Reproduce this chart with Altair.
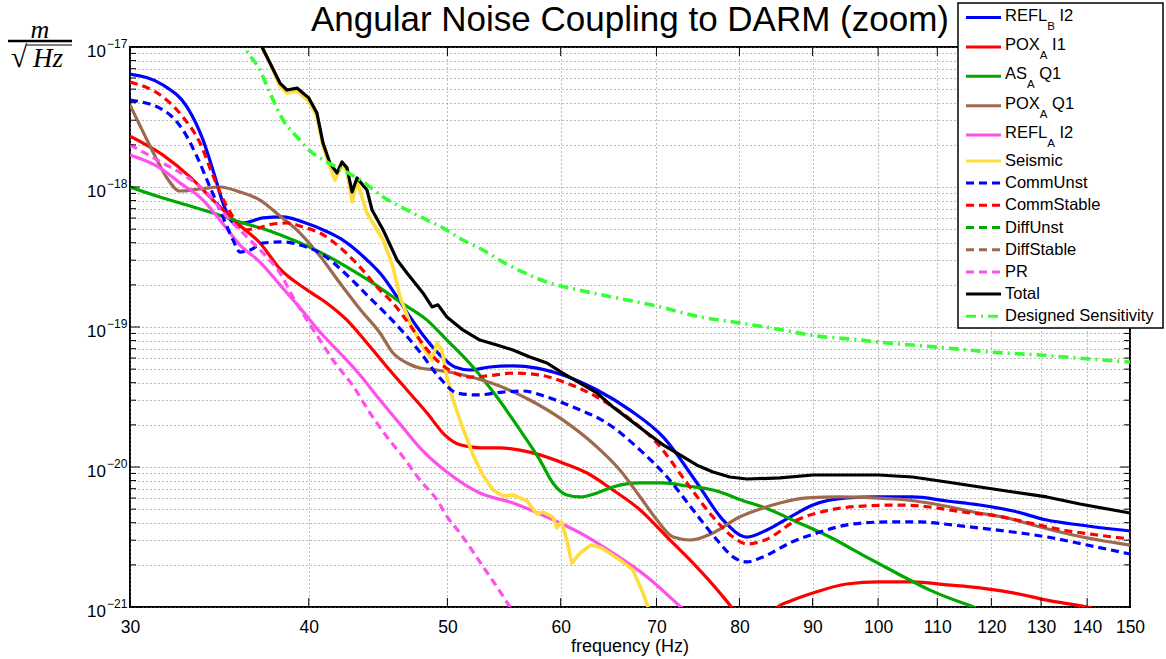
import altair as alt
import pandas as pd

# ---------------------------------------------------------------------------
# Angular noise projections to DARM, amplitude spectral density.
# Values are given in units of 1e-21 m/sqrt(Hz); frequencies in Hz.
# ---------------------------------------------------------------------------

refl_b_i2_f = [30, 31.64, 32.88, 33.74, 34.40, 34.84, 35.41, 35.98, 37.16, 38.38, 39.63, 41.39,
               42.26, 43.93, 45.09, 46.11, 47.08, 48.07, 49.40, 50.60, 51.86, 53.55, 55.57, 57.75,
               60.20, 63.61, 67.08, 70.75, 74.72, 77.92, 80.98, 83.63, 86.78, 90.05, 95.10, 100.1,
               105.7, 111.7, 117.8, 124.3, 131.2, 138.4, 150]
refl_b_i2_v = [6410, 5350, 3730, 2170, 1180, 769, 562, 553, 601, 611, 562, 469,
               418, 301, 228, 164, 118, 87.7, 63.1, 51.8, 49.3, 51.8, 52.7, 50.9,
               45.4, 35.5, 25.5, 16.4, 7.69, 4.18, 3.16, 3.55, 4.39, 5.35, 6.01, 6.11,
               6.11, 5.72, 5.35, 4.85, 4.18, 3.85, 3.49]

pox_a_i1_f = [30, 31.64, 33.04, 34.29, 35.64, 36.98, 38.19, 39.89, 41.19, 42.54, 43.93, 45.37,
              46.85, 48.39, 49.80, 51.02, 52.68, 54.41, 56.19, 58.03, 60.20, 62.60, 65.26, 68.19,
              71.21, 74.25, 77.53, 79.42, 82.0, 85.1, 86.78, 90.05, 95.10, 100.1, 105.7, 111.7,
              117.8, 124.3, 131.2, 141.1, 150]
pox_a_i1_v = [2310, 1690, 1180, 807, 553, 398, 260, 184, 148, 112, 76.9, 51.8,
              35.5, 24.3, 16.9, 14.4, 13.7, 13.7, 13.2, 12.2, 10.7, 9.06, 6.85, 4.93,
              3.16, 2.06, 1.26, 0.92, 0.5, 1.0, 1.10, 1.26, 1.46, 1.51, 1.51, 1.44,
              1.37, 1.26, 1.12, 0.98, 0.82]

as_a_q1_f = [30, 31.48, 32.88, 34.29, 35.81, 37.40, 39.00, 40.73, 42.54, 44.36, 46.33, 48.39,
             49.96, 52.10, 54.15, 56.19, 58.03, 59.25, 60.59, 61.90, 63.61, 65.26, 68.19, 70.75,
             73.52, 76.67, 80.98, 83.09, 87.76, 92.53, 97.57, 103.0, 108.7, 116.6, 122.8]
as_a_q1_v = [1000, 848, 744, 652, 562, 493, 418, 343, 268, 206, 151, 112,
             80.7, 51.8, 31.6, 18.4, 11.2, 7.69, 6.31, 6.11, 6.52, 7.20, 7.69, 7.69,
             7.32, 6.85, 5.62, 5.18, 4.05, 3.16, 2.35, 1.75, 1.32, 1.0, 0.83]

pox_a_q1_f = [30, 30.83, 31.33, 31.84, 32.51, 33.58, 34.67, 35.81, 36.98, 38.19, 39.44, 40.73,
              42.06, 43.44, 44.86, 45.81, 46.85, 47.84, 49.17, 51.26, 54.15, 57.09, 60.20, 63.61,
              66.00, 68.19, 70.06, 71.90, 73.90, 76.67, 80.00, 83.09, 85.40, 89.20, 94.04, 99.20,
              104.7, 110.5, 116.6, 123.1, 129.8, 136.8, 150]
pox_a_q1_v = [3850, 2170, 1560, 1160, 936, 968, 1000, 921, 807, 621, 469, 321,
              206, 134, 90.6, 65.2, 55.3, 50.9, 49.3, 45.4, 38.5, 30.1, 21.7, 13.9,
              9.52, 6.11, 4.18, 3.16, 3.01, 3.38, 4.39, 5.09, 5.53, 6.01, 6.11, 6.01,
              5.81, 5.35, 4.77, 4.32, 3.73, 3.27, 2.77]

refl_a_i2_f = [30, 31.48, 32.51, 33.74, 34.67, 35.81, 36.98, 38.19, 39.44, 40.73, 42.06, 43.44,
               44.86, 46.33, 47.84, 49.96, 52.68, 55.57, 58.69, 61.90, 65.26, 68.96, 72.80, 75.10]
refl_a_i2_v = [1690, 1370, 1070, 807, 581, 385, 291, 200, 137, 92.1, 65.2, 45.4,
               30.1, 20.3, 13.7, 9.21, 6.52, 5.53, 4.39, 3.38, 2.43, 1.64, 1.0, 0.75]

seismic_f = [36.69, 37.10, 37.58, 38.19, 38.62, 39.25, 39.63, 40.00, 40.53, 40.93, 41.39, 41.72,
             42.20, 42.54, 42.89, 43.23, 43.93, 45.09, 45.81, 46.33, 47.08, 48.07, 48.78, 49.17,
             49.56, 49.96, 50.46, 51.26, 52.10, 52.94, 53.81, 54.68, 55.57, 56.84, 57.75, 58.31,
             59.25, 59.62, 60.09, 60.59, 61.08, 61.90, 63.00, 64.10, 66.00, 67.40, 68.50, 69.05,
             69.60]
seismic_v = [12200, 10000, 7690, 5250, 4700, 4850, 4450, 4100, 3200, 1950, 1400, 1120,
             1440, 1300, 781, 1100, 652, 418, 268, 164, 107, 72.0, 58.1, 76.9,
             68.5, 43.9, 30.1, 19.0, 12.2, 8.77, 6.85, 6.21, 6.31, 5.72, 4.62, 4.77,
             4.39, 3.67, 4.05, 3.01, 2.06, 2.43, 2.77, 2.64, 2.17, 1.84, 1.26, 1.0,
             0.8]

comm_unst_f = [30, 31.64, 32.67, 33.42, 34.12, 34.84, 35.41, 35.81, 36.40, 37.16, 38.38, 39.44,
               40.73, 42.54, 43.93, 45.37, 46.56, 47.84, 49.40, 50.77, 52.43, 54.68, 56.46, 58.69,
               61.20, 64.63, 68.19, 71.21, 74.25, 77.17, 79.18, 80.98, 83.09, 86.78, 91.05, 96.03,
               101.4, 106.9, 112.8, 119.2, 125.7, 132.5, 140.0, 150]
comm_unst_v = [4180, 3550, 2550, 1640, 1000, 611, 418, 343, 355, 398, 405, 385,
               338, 235, 169, 122, 92.1, 66.3, 43.2, 33.8, 32.7, 34.3, 34.9, 31.6,
               26.8, 20.6, 13.2, 8.48, 4.93, 3.01, 2.28, 2.10, 2.28, 2.87, 3.43, 3.92,
               4.05, 4.05, 3.85, 3.61, 3.38, 3.11, 2.77, 2.39]

comm_stable_f = [30, 31.64, 32.67, 33.58, 34.23, 34.79, 35.41, 35.98, 36.80, 37.76, 38.62, 39.63,
                 40.73, 42.26, 43.44, 44.64, 45.81, 47.08, 48.23, 49.40, 50.60, 51.86, 53.29, 55.57,
                 58.03, 60.59, 63.61, 66.76, 70.06, 73.52, 76.67, 79.18, 80.98, 83.36, 87.76, 92.53,
                 97.57, 103.0, 108.7, 114.6, 121.1, 127.7, 134.6, 142.3, 150]
comm_stable_v = [5620, 4390, 3160, 2060, 1260, 848, 611, 493, 509, 544, 553, 518,
                 469, 355, 268, 193, 148, 103, 72.0, 55.3, 46.9, 43.9, 44.7, 46.9,
                 45.4, 39.8, 31.6, 22.8, 14.8, 7.69, 4.39, 3.16, 2.82, 3.01, 4.18, 4.93,
                 5.26, 5.35, 5.18, 4.77, 4.47, 3.98, 3.55, 3.27, 3.06]

pr_f = [30, 31.64, 32.88, 33.96, 35.07, 36.22, 37.16, 38.19, 39.00, 39.89, 40.73, 41.59,
        43.00, 44.15, 45.37, 46.56, 47.84, 49.17, 50.00, 51.02, 52.68, 54.15, 55.31, 56.19]
pr_v = [2000, 1480, 1180, 906, 611, 439, 338, 243, 164, 112, 80.7, 58.1,
        37.3, 24.3, 16.4, 11.8, 8.07, 5.81, 4.39, 3.38, 2.10, 1.39, 1.0, 0.8]

total_f = [36.69, 37.10, 37.58, 38.19, 38.62, 39.25, 39.63, 40.00, 40.53, 40.93, 41.39, 41.86,
           42.20, 42.54, 42.89, 43.23, 43.93, 44.29, 45.09, 46.11, 46.85, 48.07, 48.78, 49.25,
           49.96, 51.26, 52.68, 54.15, 55.57, 57.09, 58.69, 60.20, 61.90, 63.61, 65.26, 67.08,
           68.96, 70.75, 72.70, 74.72, 76.67, 78.77, 80.98, 85.40, 90.05, 95.10, 100.1, 105.7,
           111.7, 117.8, 124.3, 131.2, 138.4, 150]
total_v = [12200, 10000, 7690, 5530, 4930, 5090, 4690, 4330, 3380, 2060, 1480, 1260,
           1510, 1370, 921, 1160, 952, 685, 493, 301, 243, 175, 139, 144,
           118, 95.2, 80.7, 74.4, 68.5, 61.1, 55.3, 46.9, 39.8, 33.8, 26.8, 21.7,
           17.5, 14.4, 12.2, 10.3, 9.21, 8.48, 8.21, 8.35, 8.77, 8.77, 8.77, 8.48,
           7.81, 7.20, 6.63, 6.11, 5.44, 4.69]

design_f = [35.87, 36.10, 36.98, 37.58, 38.38, 39.25, 40.00, 41.19, 42.26, 43.65, 45.09, 46.56,
            48.07, 49.64, 51.26, 52.94, 54.68, 56.46, 58.97, 62.20, 65.70, 70.06, 75.10, 80.00,
            85.80, 90.60, 95.60, 100.1, 111.7, 119.6, 129.7, 140.6, 150]
design_v = [11800, 10000, 6850, 4690, 3010, 2280, 1840, 1510, 1320, 1090, 848, 708,
            601, 510, 418, 355, 291, 247, 206, 181, 161, 141, 118, 107,
            95.2, 86.2, 82.1, 78.1, 70.8, 66.3, 63.1, 59.1, 56.2]

# Axis tick positions
x_ticks = [30, 40, 50, 60, 70, 80, 90, 100, 110, 120, 130, 140, 150]
y_major = [1e-21, 1e-20, 1e-19, 1e-18, 1e-17]
y_exponents = ["\u221221", "\u221220", "\u221219", "\u221218", "\u221217"]
y_minor = [k * 10.0 ** e for e in range(-21, -17) for k in range(2, 10)]
y_grid = sorted(y_major + y_minor)

BLUE, RED, GREEN, BROWN = "#0000FF", "#FF0000", "#00A800", "#9E6A4E"
MAGENTA, YELLOW, BLACK, LIME = "#FF50EC", "#FFDD3C", "#000000", "#33FF33"
SOLID, DASH, DASHDOT = None, [8, 5], [10, 5, 2, 5]

# (key, legend main text, subscript, suffix, freqs, values, colour, dash, width, smooth)
series = [
    ("REFL_B I2", "REFL", "B", "I2", refl_b_i2_f, refl_b_i2_v, BLUE, SOLID, 3.2, True),
    ("POX_A I1", "POX", "A", "I1", pox_a_i1_f, pox_a_i1_v, RED, SOLID, 3.2, True),
    ("AS_A Q1", "AS", "A", "Q1", as_a_q1_f, as_a_q1_v, GREEN, SOLID, 3.2, True),
    ("POX_A Q1", "POX", "A", "Q1", pox_a_q1_f, pox_a_q1_v, BROWN, SOLID, 3.2, True),
    ("REFL_A I2", "REFL", "A", "I2", refl_a_i2_f, refl_a_i2_v, MAGENTA, SOLID, 3.2, True),
    ("Seismic", "Seismic", "", "", seismic_f, seismic_v, YELLOW, SOLID, 3.6, False),
    ("CommUnst", "CommUnst", "", "", comm_unst_f, comm_unst_v, BLUE, DASH, 3.2, True),
    ("CommStable", "CommStable", "", "", comm_stable_f, comm_stable_v, RED, DASH, 3.2, True),
    ("DiffUnst", "DiffUnst", "", "", [], [], GREEN, DASH, 3.2, True),
    ("DiffStable", "DiffStable", "", "", [], [], BROWN, DASH, 3.2, True),
    ("PR", "PR", "", "", pr_f, pr_v, MAGENTA, DASH, 3.2, True),
    ("Total", "Total", "", "", total_f, total_v, BLACK, SOLID, 3.2, False),
    ("Designed Sensitivity", "Designed Sensitivity", "", "", design_f, design_v, LIME, DASHDOT, 3.6, True),
]

W, H = 1000, 560
FONT = "Liberation Sans"
xscale = alt.Scale(type="log", domain=[30, 150], nice=False)
yscale = alt.Scale(type="log", domain=[1e-21, 1e-17], nice=False)

x_axis = alt.Axis(values=x_ticks, labelExpr="format(datum.value, 'd')", grid=True,
                  gridDash=[1, 3], gridColor="#777777", gridWidth=1, ticks=False, domain=False,
                  labelFontSize=17.5, labelFont=FONT, labelColor="black", labelPadding=11,
                  labelFlush=False, labelOverlap=False, title=None)
y_axis = alt.Axis(values=y_grid, grid=True, gridDash=[1, 3], gridColor="#777777", gridWidth=1,
                  labels=False, ticks=False, domain=False, title=None)


def X(field="freq"):
    return alt.X(f"{field}:Q", scale=xscale, axis=x_axis)


def Y(field="asd"):
    return alt.Y(f"{field}:Q", scale=yscale, axis=y_axis)


def one_row(text=""):
    return alt.Chart(pd.DataFrame({"t": [text]}))


def note(text, x, y, **kw):
    return one_row(text).mark_text(**kw).encode(x=alt.value(x), y=alt.value(y), text="t:N")


layers = []

# spectra, in plotting order
for key, _, _, _, fs, vs, color, dash, width, smooth in series:
    if not fs:
        continue
    d = pd.DataFrame({"freq": fs, "asd": [v * 1e-21 for v in vs]})
    mk = dict(clip=True, color=color, strokeWidth=width, strokeJoin="round",
              interpolate="monotone" if smooth else "linear")
    if dash:
        mk["strokeDash"] = dash
    layers.append(alt.Chart(d).mark_line(**mk).encode(x=X(), y=Y()))

# inward tick marks on all four sides
xt = pd.DataFrame({"freq": x_ticks})
for y0, y1 in [(H, H - 9), (0, 9)]:
    layers.append(alt.Chart(xt).mark_rule(color="black", strokeWidth=1).encode(
        x=X(), y=alt.value(y0), y2=alt.value(y1)))
for vals, length in [(y_major, 10), (y_minor, 6)]:
    yt = pd.DataFrame({"asd": vals})
    for x0, x1 in [(0, length), (W, W - length)]:
        layers.append(alt.Chart(yt).mark_rule(color="black", strokeWidth=1).encode(
            y=Y(), x=alt.value(x0), x2=alt.value(x1)))

# y tick labels as 10^n
yl = pd.DataFrame({"asd": y_major, "exp": y_exponents})
layers.append(alt.Chart(yl).mark_text(text="10", align="right", baseline="middle", fontSize=17,
                                      font=FONT, dy=5, color="black").encode(
    y=Y(), x=alt.value(-24)))
layers.append(alt.Chart(yl).mark_text(align="left", baseline="middle", fontSize=12,
                                      font=FONT, dy=-3, color="black").encode(
    y=Y(), x=alt.value(-23), text="exp:N"))

# titles
layers.append(note("Angular Noise Coupling to DARM (zoom)", W / 2, -16.5, align="center",
                   baseline="alphabetic", fontSize=35, font=FONT, color="black"))
layers.append(note("frequency (Hz)", W / 2, 605, align="center", baseline="alphabetic",
                   fontSize=18, font=FONT, color="black"))

# unit label  m / sqrt(Hz)
SERIF = "Liberation Serif"
layers.append(note("m", -90, -17, align="center", baseline="middle", fontSize=26,
                   font=SERIF, fontStyle="italic", color="black"))
layers.append(one_row().mark_rule(color="black", strokeWidth=2.5).encode(
    x=alt.value(-122), x2=alt.value(-58), y=alt.value(-6)))
layers.append(note("\u221a", -111, 11, align="center", baseline="middle", fontSize=30,
                   font=SERIF, color="black"))
layers.append(one_row().mark_rule(color="black", strokeWidth=1.2).encode(
    x=alt.value(-103), x2=alt.value(-58), y=alt.value(-2)))
layers.append(note("Hz", -82, 12, align="center", baseline="middle", fontSize=27,
                   font=SERIF, fontStyle="italic", color="black"))

# legend box
LX0, LX1, LY0, LY1 = 828, 1033, -44, 281
layers.append(one_row().mark_rect(fill="white", stroke="black", strokeWidth=1.5).encode(
    x=alt.value(LX0), x2=alt.value(LX1), y=alt.value(LY0), y2=alt.value(LY1)))

# Arial/Liberation advance widths (em) for legend text placement
ADV = {"R": .722, "E": .667, "F": .611, "L": .556, "P": .667, "O": .778, "X": .667,
       "A": .667, "S": .667, "B": .667, " ": .278}
LFS, SFS = 16.5, 11.5
ly = -29.5
prev_sub = False
for i, (key, main, sub, rest, _, _, color, dash, width, _) in enumerate(series):
    if i > 0:
        ly += 22.2 + (3.6 if prev_sub else 0) + (3.6 if sub else 0)
    mk = dict(color=color, strokeWidth=3)
    if dash:
        mk["strokeDash"] = dash
    layers.append(one_row().mark_rule(**mk).encode(
        x=alt.value(836), x2=alt.value(871), y=alt.value(ly)))
    ty = ly - 2 if sub else ly
    layers.append(note(main, 875, ty, align="left", baseline="middle", fontSize=LFS,
                       font=FONT, color="black"))
    if sub:
        sx = 875 + sum(ADV[c] for c in main) * LFS
        layers.append(note(sub, sx, ly + 9, align="left", baseline="middle", fontSize=SFS,
                           font=FONT, color="black"))
        rx = sx + ADV[sub] * SFS + ADV[" "] * LFS
        layers.append(note(rest, rx, ty, align="left", baseline="middle",
                           fontSize=LFS, font=FONT, color="black"))
    prev_sub = bool(sub)

chart = alt.layer(*layers).properties(
    width=W, height=H, autosize="none",
    padding={"left": 130, "top": 47, "right": 36, "bottom": 52},
    background="white",
).configure_view(stroke="black", strokeWidth=2)

chart.save("out.html", embed_options={"renderer": "svg", "actions": False})
